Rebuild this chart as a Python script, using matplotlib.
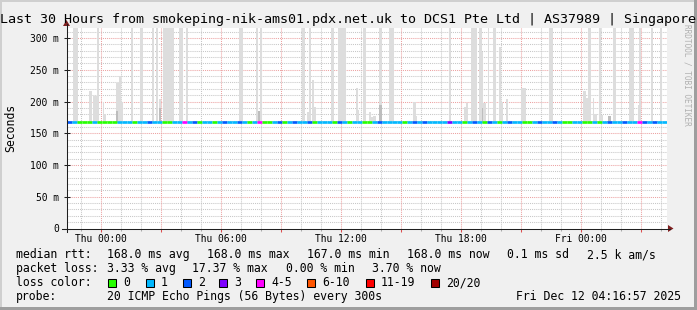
import matplotlib
matplotlib.use('Agg')
import matplotlib.pyplot as plt
from matplotlib.patches import Rectangle, Polygon
from matplotlib.lines import Line2D
import numpy as np

W, H = 697, 310
MONO = 'DejaVu Sans Mono'

# ---------------- data ----------------
title = "Last 30 Hours from smokeping-nik-ams01.pdx.net.uk to DCS1 Pte Ltd | AS37989 | Singapore"
x_start_h = -1.7167          # window start, hours relative to Thu 00:00
x_end_h = 28.2833            # window end (Fri 04:17)
y_max_ms = 315.8
median_ms = 168.0
loss_step_h = 0.25

# loss colour class per 15-minute step (index into loss_colors)
loss_idx = [2, 1, 0, 0, 0, 1, 0, 0, 0, 0,
            1, 1, 1, 0, 1, 1, 2, 1, 1, 0,
            0, 1, 1, 4, 1, 2, 0, 1, 1, 0,
            1, 2, 1, 1, 2, 1, 0, 1, 4, 0,
            0, 1, 2, 0, 1, 2, 1, 1, 2, 0,
            1, 1, 1, 0, 2, 1, 0, 1, 1, 0,
            0, 1, 2, 1, 1, 1, 1, 0, 1, 2,
            1, 2, 1, 1, 1, 1, 3, 1, 1, 0,
            1, 2, 1, 0, 2, 1, 0, 1, 2, 1,
            1, 0, 0, 1, 2, 1, 1, 2, 1, 0,
            0, 1, 1, 0, 0, 1, 0, 1, 2, 1,
            1, 2, 1, 1, 4, 2, 1, 2, 1, 1]

# smoke (ping spread) bars: start/end in hours rel. Thu 00:00, top in ms
smoke_start = [-1.37, -0.57, -0.37, -0.17, 0.13, 0.18, 0.78, 0.93, 1.03, 1.53,
               1.98, 2.58, 2.78, 2.93, 3.13, 3.93, 4.28, 6.93, 7.78, 7.88,
               7.98, 10.08, 10.33, 10.43, 10.58, 10.68, 11.53, 11.88, 12.78, 12.88,
               13.13, 13.43, 13.53, 13.63, 13.93, 14.43, 15.63, 15.78, 17.43, 18.18,
               18.28, 18.53, 18.93, 19.08, 19.13, 19.38, 19.63, 19.93, 20.03, 20.28,
               21.03, 22.43, 24.13, 24.28, 24.38, 24.63, 24.68, 24.93, 25.03, 25.38,
               25.63, 26.43, 26.88, 26.93, 27.53, 27.98]
smoke_end = [-1.12, -0.42, -0.17, -0.07, 0.18, 0.28, 0.93, 1.03, 1.13, 1.63,
             2.13, 2.68, 2.88, 3.03, 3.68, 4.13, 4.38, 7.13, 7.88, 7.98,
             8.08, 10.23, 10.43, 10.53, 10.68, 10.78, 11.68, 12.28, 12.88, 12.93,
             13.28, 13.53, 13.63, 13.78, 14.08, 14.68, 15.78, 15.83, 17.53, 18.28,
             18.38, 18.83, 19.08, 19.13, 19.28, 19.43, 19.78, 20.03, 20.13, 20.38,
             21.28, 22.63, 24.28, 24.38, 24.53, 24.68, 24.83, 25.03, 25.13, 25.53,
             25.78, 26.68, 26.93, 27.03, 27.63, 28.08]
smoke_top_ms = [330, 216, 208, 330, 200, 180, 229, 240, 199, 330,
                330, 330, 330, 204, 330, 330, 330, 330, 330, 185,
                330, 330, 183, 330, 234, 191, 330, 330, 221, 186,
                330, 183, 176, 177, 330, 330, 199, 177, 330, 191,
                197, 330, 330, 278, 197, 330, 330, 286, 200, 204,
                221, 330, 216, 205, 330, 205, 180, 330, 178, 177,
                330, 330, 195, 330, 330, 330]
smoke_base_ms = 166.0

dark_start = [0.78, 2.93, 7.88, 13.93, 19.08, 25.38]
dark_end = [0.88, 3.03, 7.98, 14.08, 19.13, 25.53]
dark_top_ms = [185, 190, 185, 194, 190, 177]

x_tick_hours = [0, 6, 12, 18, 24]
x_tick_labels = ['Thu 00:00', 'Thu 06:00', 'Thu 12:00', 'Thu 18:00', 'Fri 00:00']
y_ticks_ms = [0, 50, 100, 150, 200, 250, 300]
y_tick_labels = ['0', '50 m', '100 m', '150 m', '200 m', '250 m', '300 m']

loss_labels = ['0', '1', '2', '3', '4-5', '6-10', '11-19', '20/20']
loss_colors = ['#26ff00', '#00b8ff', '#0059ff', '#7e00ff', '#ff00ff',
               '#ff5500', '#ff0000', '#a10000']

rtt_stats = ['168.0 ms avg', '168.0 ms max', '167.0 ms min', '168.0 ms now',
             '0.1 ms sd', '2.5 k am/s']
loss_stats = ['3.33 % avg', '17.37 % max', '0.00 % min', '3.70 % now']
probe_text = '20 ICMP Echo Pings (56 Bytes) every 300s'
stamp_text = 'Fri Dec 12 04:16:57 2025'

# ---------------- layout helpers ----------------
def fx(px):
    return px / W

def fy(py):
    return 1 - py / H

fig = plt.figure(figsize=(W / 100, H / 100), dpi=100, facecolor='#f0f0f0')

# 3D-ish frame
fig.add_artist(Rectangle((0, 0), fx(2), 1, transform=fig.transFigure, color='#cfcfcf', lw=0))
fig.add_artist(Rectangle((0, fy(2)), 1, 2 / H, transform=fig.transFigure, color='#cfcfcf', lw=0))
fig.add_artist(Rectangle((fx(W - 3), 0), 3 / W, 1, transform=fig.transFigure, color='#9e9e9e', lw=0))
fig.add_artist(Rectangle((0, 0), 1, 3 / H, transform=fig.transFigure, color='#9e9e9e', lw=0))

ax_left, ax_bottom_px, ax_w, ax_h = 66.5, 228.5, 600, 200.5
ax = fig.add_axes([fx(ax_left), fy(ax_bottom_px), ax_w / W, ax_h / H])
ax.set_facecolor('white')
ax.set_xlim(x_start_h, x_end_h)
ax.set_ylim(0, y_max_ms)
for s in ax.spines.values():
    s.set_visible(False)

grid_minor = (0.78, 0.78, 0.78)
grid_major = '#eca2a2'
dot = (0, (1, 1))

# horizontal grid
for v in range(10, int(y_max_ms) + 1, 10):
    if v % 50 == 0:
        ax.axhline(v, color=grid_major, lw=0.75, ls=dot, zorder=1)
    else:
        ax.axhline(v, color=grid_minor, lw=0.75, ls=dot, zorder=1)
# vertical grid
for hh in range(int(np.ceil(x_start_h)), int(np.floor(x_end_h)) + 1):
    if hh % 3 == 0:
        ax.axvline(hh, color=grid_major, lw=0.75, ls=dot, zorder=1)
    else:
        ax.axvline(hh, color=grid_minor, lw=0.75, ls=dot, zorder=1)

# smoke
sw = [e - s for s, e in zip(smoke_start, smoke_end)]
ax.bar(smoke_start, [t - smoke_base_ms for t in smoke_top_ms], width=sw,
       bottom=smoke_base_ms, align='edge', color='#dddddd', lw=0, zorder=2)
dw = [e - s for s, e in zip(dark_start, dark_end)]
ax.bar(dark_start, [t - smoke_base_ms for t in dark_top_ms], width=dw,
       bottom=smoke_base_ms, align='edge', color='#bdbdbd', lw=0, zorder=2)

# median line coloured by loss
seg_x0 = [x_start_h + i * loss_step_h for i in range(len(loss_idx))]
seg_x1 = [min(x0 + loss_step_h, x_end_h) for x0 in seg_x0]
ax.hlines([median_ms] * len(loss_idx), seg_x0, seg_x1,
          colors=[loss_colors[k] for k in loss_idx], lw=1.9, capstyle='butt', zorder=3)

# ticks
ax.set_xticks([h for h in range(0, 28, 3)])
ax.set_xticklabels([x_tick_labels[x_tick_hours.index(h)] if h in x_tick_hours else ''
                    for h in range(0, 28, 3)])
ax.set_xticks([h for h in range(-1, 29) if h % 3 != 0], minor=True)
ax.tick_params(axis='x', which='major', direction='out', length=2.4, width=0.75,
               color='#de5050', pad=7.2, labelsize=6.9)
ax.tick_params(axis='x', which='minor', direction='out', length=1.6, width=0.75,
               color='#aaaaaa')
for lab in ax.get_xticklabels():
    lab.set_fontfamily(MONO)
    lab.set_va('baseline')

ax.set_yticks(y_ticks_ms)
ax.set_yticklabels(y_tick_labels)
ax.tick_params(axis='y', which='major', direction='inout', length=5, width=0.75,
               color='#1f1f1f', pad=3.0, labelsize=6.9)
for lab in ax.get_yticklabels():
    lab.set_fontfamily(MONO)

# axes with arrows (pixel geometry)
axis_c = '#1f1f1f'
arrow_c = '#7f1f1f'
fig.add_artist(Line2D([fx(62), fx(670)], [fy(228.5), fy(228.5)], color=axis_c, lw=0.75))
fig.add_artist(Line2D([fx(66.5), fx(66.5)], [fy(232), fy(24)], color=axis_c, lw=0.75))
fig.add_artist(Polygon([[fx(668), fy(225)], [fx(668), fy(232)], [fx(673.5), fy(228.5)]],
                       closed=True, transform=fig.transFigure, color=arrow_c, lw=0))
fig.add_artist(Polygon([[fx(63), fy(26)], [fx(70), fy(26)], [fx(66.5), fy(20)]],
                       closed=True, transform=fig.transFigure, color=arrow_c, lw=0))

# texts
fig.text(fx(348.5), fy(22.6), title, ha='center', va='baseline', fontsize=9.6, family=MONO)
fig.text(fx(10.5), fy(127.5), 'Seconds', rotation=90, ha='center', va='center',
         fontsize=8.3, family=MONO)
fig.text(fx(686.5), fy(24), 'RRDTOOL / TOBI OETIKER', rotation=270, ha='center', va='top',
         fontsize=5.6, family=MONO, color='#b0b0b0')

LS = 8.3
row_y = [258.3, 272.3, 286.2, 300.2]
fig.text(fx(16), fy(row_y[0]), 'median rtt:', fontsize=LS, family=MONO, va='baseline')
for xpx, s in zip([107, 207, 307, 407, 507, 587], rtt_stats):
    fig.text(fx(xpx), fy(row_y[0]), s, fontsize=LS, family=MONO, va='baseline')
fig.text(fx(16), fy(row_y[1]), 'packet loss:', fontsize=LS, family=MONO, va='baseline')
for xpx, s in zip([107, 192, 286, 372], loss_stats):
    fig.text(fx(xpx), fy(row_y[1]), s, fontsize=LS, family=MONO, va='baseline')
fig.text(fx(16), fy(row_y[2]), 'loss color:', fontsize=LS, family=MONO, va='baseline')
for bx, lab, c in zip([108, 146, 183, 219, 256, 307, 366, 431], loss_labels, loss_colors):
    fig.add_artist(Rectangle((fx(bx), fy(286.5)), 8 / W, 8 / H, transform=fig.transFigure,
                             facecolor=c, edgecolor='black', lw=0.75))
    fig.text(fx(bx + 15), fy(row_y[2]), lab, fontsize=LS, family=MONO, va='baseline')
fig.text(fx(16), fy(row_y[3]), 'probe:', fontsize=LS, family=MONO, va='baseline')
fig.text(fx(107), fy(row_y[3]), probe_text, fontsize=LS, family=MONO, va='baseline')
fig.text(fx(680.5), fy(row_y[3]), stamp_text, fontsize=LS, family=MONO, va='baseline', ha='right')

fig.savefig('out.png', dpi=100, facecolor=fig.get_facecolor())
